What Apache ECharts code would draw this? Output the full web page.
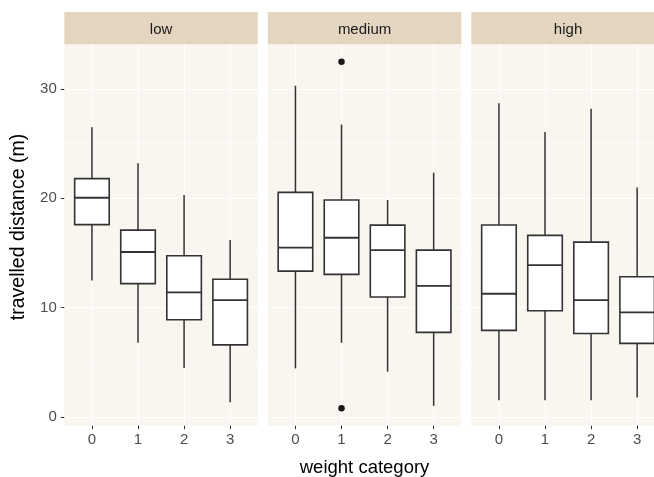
<!DOCTYPE html>
<html>
<head>
<meta charset="utf-8">
<script src="https://cdn.jsdelivr.net/npm/echarts@6/dist/echarts.min.js"></script>
<style>html,body{margin:0;padding:0;background:#fff;}#c{width:654px;height:477px;}</style>
</head>
<body>
<div id="c"></div>
<script>
// ---- data ----
const categories = ['0', '1', '2', '3'];
const panels = ['low', 'medium', 'high'];
// [lower whisker, Q1, median, Q3, upper whisker]
const lowStats = [
  [12.5, 17.6, 20.05, 21.8, 26.5],
  [6.8, 12.2, 15.1, 17.1, 23.2],
  [4.5, 8.9, 11.4, 14.75, 20.3],
  [1.35, 6.6, 10.7, 12.6, 16.2]
];
const mediumStats = [
  [4.45, 13.35, 15.5, 20.55, 30.3],
  [6.8, 13.05, 16.4, 19.85, 26.75],
  [4.15, 10.98, 15.27, 17.55, 19.85],
  [1.03, 7.75, 12.0, 15.27, 22.35]
];
const highStats = [
  [1.55, 7.93, 11.28, 17.56, 28.7],
  [1.55, 9.72, 13.9, 16.62, 26.07],
  [1.55, 7.65, 10.7, 16.0, 28.2],
  [1.8, 6.74, 9.58, 12.83, 21.0]
];
const lowOutliers = [];
const mediumOutliers = [[1, 32.5], [1, 0.8]];
const highOutliers = [];
const yTicks = [0, 10, 20, 30];
const yMinorTicks = [5, 15, 25];
const xTicks = [0, 1, 2, 3];

// ---- layout ----
const panelLeft0 = 64.3, panelStep = 203.5, panelW = 193.5;
const gridTop = 44.3, gridBottom = 51.3;
const stripTop = 12, stripH = 32.3;
const yMin = -0.785, yMax = 34.085;
const panelBg = '#F9F5EF', stripBg = '#E4D5C0';
const font = 'Liberation Sans, Arial, Helvetica, sans-serif';

const statsByPanel = [lowStats, mediumStats, highStats];
const outliersByPanel = [lowOutliers, mediumOutliers, highOutliers];

const grids = [], xAxes = [], yAxes = [], series = [], graphics = [];

function renderBox(params, api) {
  const x = api.value(0);
  const lo = api.coord([x, api.value(1)]);
  const q1 = api.coord([x, api.value(2)]);
  const med = api.coord([x, api.value(3)]);
  const q3 = api.coord([x, api.value(4)]);
  const hi = api.coord([x, api.value(5)]);
  const w = api.size([0.75, 0])[0];
  const stroke = '#333333';
  return {
    type: 'group',
    children: [
      { type: 'line', shape: { x1: lo[0], y1: lo[1], x2: q1[0], y2: q1[1] }, style: { stroke: stroke, lineWidth: 1.5 } },
      { type: 'line', shape: { x1: q3[0], y1: q3[1], x2: hi[0], y2: hi[1] }, style: { stroke: stroke, lineWidth: 1.5 } },
      { type: 'rect', shape: { x: q3[0] - w / 2, y: q3[1], width: w, height: q1[1] - q3[1] }, style: { fill: '#ffffff', stroke: stroke, lineWidth: 1.6 } },
      { type: 'line', shape: { x1: med[0] - w / 2, y1: med[1], x2: med[0] + w / 2, y2: med[1] }, style: { stroke: stroke, lineWidth: 1.9 } }
    ]
  };
}

panels.forEach(function (name, i) {
  const left = panelLeft0 + i * panelStep;
  grids.push({
    left: left, width: panelW, top: gridTop, bottom: gridBottom,
    show: true, backgroundColor: panelBg, borderWidth: 0,
    containLabel: false, outerBoundsMode: 'none'
  });
  xAxes.push({
    type: 'value', gridIndex: i, min: -0.6, max: 3.6, position: 'bottom',
    axisLine: { show: false, onZero: false },
    axisTick: { show: true, customValues: xTicks, length: 3.5, lineStyle: { color: '#333333', width: 1 } },
    axisLabel: {
      show: true, customValues: xTicks, margin: 7, color: '#4D4D4D', fontSize: 15, fontFamily: font,
      formatter: function (v) { return categories[Math.round(v)]; }
    },
    splitLine: { show: true, lineStyle: { color: '#ffffff', width: 1.1 } },
    name: i === 1 ? 'weight category' : '',
    nameLocation: 'middle', nameGap: 33,
    nameTextStyle: { color: '#000000', fontSize: 18.5, fontFamily: font }
  });
  // major y axis
  yAxes.push({
    type: 'value', gridIndex: i, min: yMin, max: yMax, position: 'left',
    axisLine: { show: false, onZero: false },
    axisTick: { show: i === 0, customValues: yTicks, length: 3.5, lineStyle: { color: '#333333', width: 1 } },
    axisLabel: { show: i === 0, customValues: yTicks, margin: 7.5, color: '#4D4D4D', fontSize: 15, fontFamily: font },
    splitLine: { show: true, lineStyle: { color: '#ffffff', width: 1.1 } }
  });
  // minor y axis (grid lines only)
  yAxes.push({
    type: 'value', gridIndex: i, min: yMin, max: yMax, position: 'left',
    axisLine: { show: false, onZero: false },
    axisTick: { show: false, customValues: yMinorTicks },
    axisLabel: { show: false, customValues: yMinorTicks },
    splitLine: { show: true, lineStyle: { color: '#ffffff', width: 0.6 } }
  });
  const boxData = statsByPanel[i].map(function (s, k) { return [k].concat(s); });
  series.push({
    type: 'custom', xAxisIndex: i, yAxisIndex: 2 * i, z: 3,
    renderItem: renderBox, data: boxData, silent: true,
    encode: { x: 0, y: [1, 2, 3, 4, 5] }
  });
  series.push({
    type: 'scatter', xAxisIndex: i, yAxisIndex: 2 * i, z: 4,
    data: outliersByPanel[i], symbol: 'circle', symbolSize: 6.5,
    itemStyle: { color: '#1A1A1A', opacity: 1 }, silent: true
  });
  graphics.push({
    type: 'rect', left: left, top: stripTop, shape: { width: panelW, height: stripH },
    style: { fill: stripBg }, silent: true
  });
  graphics.push({
    type: 'text', x: left + panelW / 2, y: stripTop + stripH / 2 + 1.5,
    style: { text: name, fill: '#1A1A1A', font: '15px ' + font, textAlign: 'center', textVerticalAlign: 'middle' },
    silent: true
  });
});

graphics.push({
  type: 'text', x: 19, y: 227, rotation: Math.PI / 2,
  style: { text: 'travelled distance (m)', fill: '#000000', font: '19.5px ' + font, textAlign: 'center', textVerticalAlign: 'middle' },
  silent: true
});

const chart = echarts.init(document.getElementById('c'), null, { renderer: 'canvas' });
chart.setOption({
  animation: false,
  backgroundColor: '#ffffff',
  grid: grids,
  xAxis: xAxes,
  yAxis: yAxes,
  series: series,
  graphic: graphics
});
</script>
</body>
</html>
